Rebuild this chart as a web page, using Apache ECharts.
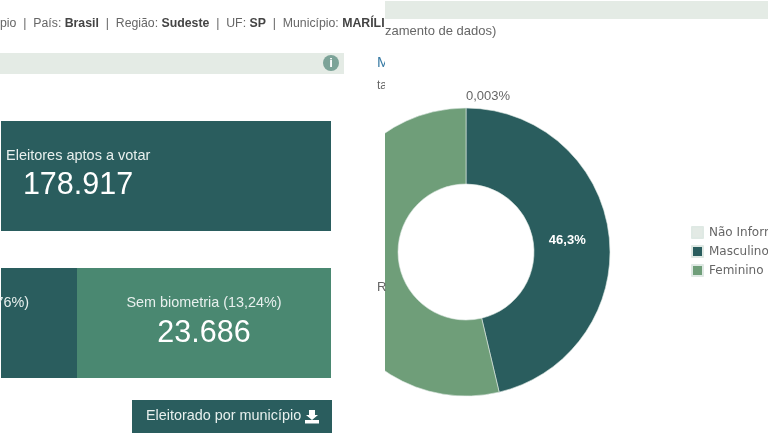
<!DOCTYPE html>
<html>
<head>
<meta charset="utf-8">
<script src="https://cdn.jsdelivr.net/npm/echarts@6/dist/echarts.min.js"></script>
<style>
  html, body { margin: 0; padding: 0; background: #fff; }
  #chart { width: 768px; height: 445px; filter: blur(0.4px); }
</style>
</head>
<body>
<div id="chart"></div>
<script>
// pie values (percent)
const categories = ['Não Informado', 'Masculino', 'Feminino'];
const values = [0.003, 46.3, 53.697];
const sliceLabels = ['0,003%', '46,3%', '53,7%'];
const sliceColors = ['#e3eae5', '#2a5d5e', '#6f9e79'];

// texts of the cropped dashboard around the chart
const breadcrumb = [
  ['pio  |  País: ', false], ['Brasil', true], ['  |  Região: ', false], ['Sudeste', true],
  ['  |  UF: ', false], ['SP', true], ['  |  Município: ', false], ['MARÍLI', true]
];
const aptosLabel = 'Eleitores aptos a votar';
const aptosValue = '178.917';
const comBiometriaLabel = 'Com biometria (86,76%)';
const semBiometriaLabel = 'Sem biometria (13,24%)';
const semBiometriaValue = '23.686';
const buttonLabel = 'Eleitorado por município';
const noteText = 'zamento de dados)';

const FONT = '"Liberation Sans", Arial, sans-serif';
const DARK = '#2a5d5e';
const GREEN = '#4a8871';
const BAND = '#e4ebe5';
const GREY = '#666';

function box(x, y, width, height, fill, z) {
  return { type: 'rect', z: z || 101, shape: { x, y, width, height }, style: { fill } };
}
function label(text, x, y, size, fill, opts) {
  return {
    type: 'text', z: 103, x, y,
    style: Object.assign({ text, fill, font: size + 'px ' + FONT, textAlign: 'left', textVerticalAlign: 'middle' }, opts || {})
  };
}

// breadcrumb runs are laid out one after the other with a measured width
const measure = document.createElement('canvas').getContext('2d');
let crumbX = 0;
const crumbItems = breadcrumb.map(([text, bold]) => {
  const font = (bold ? 'bold ' : '') + '12.3px ' + FONT;
  measure.font = font;
  const item = label(text, crumbX, 24, 12.3, bold ? '#444' : GREY, { font });
  crumbX += measure.measureText(text).width;
  return item;
});

const chart = echarts.init(document.getElementById('chart'));
chart.setOption({
  animation: false,
  backgroundColor: '#fff',
  color: sliceColors,
  legend: {
    orient: 'vertical',
    left: 686,
    top: 221,
    itemWidth: 11,
    itemHeight: 11,
    itemGap: 6,
    icon: 'rect',
    data: categories,
    textStyle: { fontFamily: 'DejaVu Sans', fontSize: 12, color: '#666', padding: [0, 0, 0, 1] },
    selectedMode: false
  },
  series: [{
    type: 'pie',
    center: [466, 252],
    radius: [68, 144],
    startAngle: 90,
    clockwise: true,
    minAngle: 0,
    avoidLabelOverlap: false,
    itemStyle: { borderColor: '#dfe9e4', borderWidth: 0.6 },
    labelLine: { show: false, length: 0, length2: 0 },
    labelLayout: params => (params.dataIndex === 0 ? { dx: -5, dy: -12 } : { dx: -7, dy: 1 }),
    data: categories.map((name, i) => ({
      name,
      value: values[i],
      label: i === 0
        ? { show: true, position: 'outside', formatter: sliceLabels[i], color: '#666', fontSize: 13, fontFamily: FONT }
        : { show: true, position: 'inside', formatter: sliceLabels[i], color: '#fff', fontSize: 13, fontWeight: 'bold', fontFamily: FONT }
    }))
  }],
  graphic: {
    elements: [
      // left half of the screenshot sits on top of the pie
      box(0, 0, 385, 445, '#fff', 100),
      box(385, 1, 383, 18, BAND),
      box(0, 53, 344, 21, BAND),
      { type: 'circle', z: 102, shape: { cx: 331, cy: 63, r: 8 }, style: { fill: '#7ca398' } },
      label('i', 331, 63, 13, '#fff', { font: 'bold 13px ' + FONT, textAlign: 'center' }),
      label('M', 377, 63, 15, '#3a7ca5'),
      label('ta', 377, 86, 12, GREY),
      label('R', 377, 287, 13, GREY),
      // the crop edge cuts these fragments
      box(385, 50, 8, 45, '#fff', 104),
      label(noteText, 385, 31, 13, GREY),
      box(1, 121, 330, 110, DARK),
      label(aptosLabel, 6, 156, 14.5, '#e8f0ee'),
      label(aptosValue, 78, 186, 30.5, '#fff', { textAlign: 'center' }),
      box(1, 268, 76, 110, DARK),
      box(77, 268, 254, 110, GREEN),
      label(comBiometriaLabel, 29, 303, 14.4, '#e8f0ee', { textAlign: 'right' }),
      label(semBiometriaLabel, 204, 303, 14.4, '#e8f0ee', { textAlign: 'center' }),
      label(semBiometriaValue, 204, 334, 30.5, '#fff', { textAlign: 'center' }),
      box(132, 400, 200, 33, DARK),
      label(buttonLabel, 146, 416, 14.4, '#e8f0ee'),
      // download icon
      { type: 'polygon', z: 103, shape: { points: [[309, 410], [315, 410], [315, 415], [318, 415], [312, 420], [306, 415], [309, 415]] }, style: { fill: '#fff' } },
      box(305, 420, 14, 3.5, '#fff', 103)
    ].concat(crumbItems)
  }
});
</script>
</body>
</html>
